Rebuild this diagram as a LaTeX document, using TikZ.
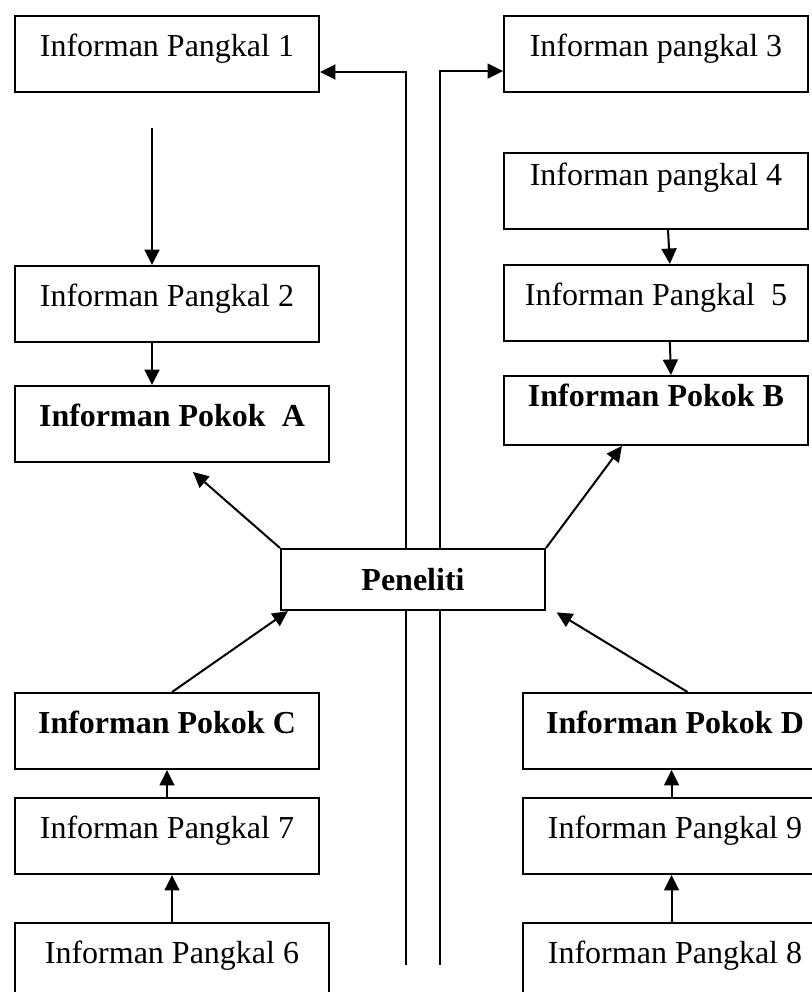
\documentclass[tikz,border=0pt]{standalone}
\usepackage{fontspec}
\setmainfont{Liberation Serif}
\usepackage{tikz}
\usetikzlibrary{arrows.meta, positioning}

\begin{document}
\begin{tikzpicture}[
    x=0.375pt, y=-0.375pt,
    line width=0.75pt,
    kotak/.style = {rectangle, draw, fill=white, inner sep=0pt, anchor=north west,
                    text height=15pt, text depth=13.5pt, minimum width=114pt},
    pil/.style = {black, -{Triangle[length=5.8pt,width=5.6pt]}},
    font=\fontsize{12}{14}\selectfont
    ]
  \useasboundingbox (0,0) rectangle (812,992);

  % kiri atas
  \node[kotak] (ip1) at (14,15) {Informan Pangkal 1} ;
  \node[kotak] (ip2) at (14,265) {Informan Pangkal 2} ;
  \node[kotak,minimum width=117.75pt] (pokokA) at (14,385) {\textbf{Informan Pokok\ \ A}} ;

  % kanan atas
  \node[kotak] (ip3) at (503,15) {Informan pangkal 3} ;
  \node[kotak,text height=12pt,text depth=16.5pt] (ip4) at (503,152) {Informan pangkal 4} ;
  \node[kotak] (ip5) at (503,264) {Informan Pangkal\ \ 5} ;
  \node[kotak,text height=11.25pt,text depth=14.6pt] (pokokB) at (503,375) {\textbf{Informan Pokok B}} ;

  % tengah
  \node[kotak,minimum width=99pt,text height=15.4pt,text depth=7.5pt] (peneliti) at (280,548) {\textbf{Peneliti}} ;

  % kiri bawah
  \node[kotak] (pokokC) at (14,692) {\textbf{Informan Pokok C}} ;
  \node[kotak] (ip7) at (14,797) {Informan Pangkal 7} ;
  \node[kotak,minimum width=117.75pt,text depth=18pt] (ip6) at (14,922) {Informan Pangkal 6} ;

  % kanan bawah
  \node[kotak] (pokokD) at (522,692) {\textbf{Informan Pokok D}} ;
  \node[kotak] (ip9) at (522,797) {Informan Pangkal 9} ;
  \node[kotak,text depth=18pt] (ip8) at (522,922) {Informan Pangkal 8} ;

  \coordinate (a1) at (152,128) ;
  \coordinate (ujungA) at (193,472) ;
  \coordinate (kiribawah) at (406,965) ;
  \coordinate (kananbawah) at (440,965) ;

  % garis tengah
  \draw (kiribawah) -- (kiribawah |- peneliti.south) ;
  \draw (kananbawah) -- (kananbawah |- peneliti.south) ;
  \draw[pil] (kiribawah |- peneliti.north) |- ([yshift=-6.75pt]ip1.east) ;
  \draw[pil] (kananbawah |- peneliti.north) |- ([yshift=-6.4pt]ip3.west) ;

  \path[every edge/.append style={pil}]
  (a1) edge (a1 |- ip2.north)
  (ip2.south -| a1) edge (pokokA.north -| a1)

  ([xshift=4.5pt]ip4.south) edge ([xshift=5.2pt]ip5.north)
  ([xshift=5.2pt]ip5.south) edge ([xshift=5.6pt]pokokB.north)

  (peneliti.north west) edge (ujungA)
  (peneliti.north east) edge ([xshift=44.6pt]pokokB.south west)

  ([xshift=1.9pt]pokokC.north) edge ([xshift=3pt]peneliti.south west)
  ([xshift=4.7pt]pokokD.north) edge ([xshift=4pt,yshift=-0.5pt]peneliti.south east)

  (ip7.north) edge (pokokC.south)
  (ip6.north) edge (ip6.north |- ip7.south)
  ([xshift=-1.3pt]ip9.north) edge ([xshift=-1.3pt]pokokD.south)
  ([xshift=-1.3pt]ip8.north) edge ([xshift=-1.3pt]ip9.south);

\end{tikzpicture}
\end{document}
